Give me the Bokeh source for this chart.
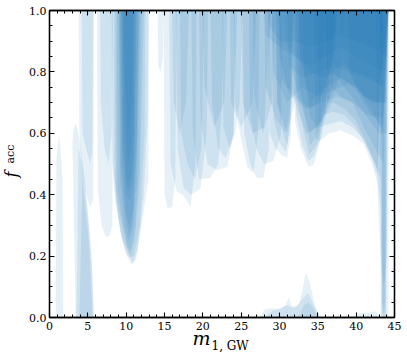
from bokeh.plotting import figure
from bokeh.models import Title, LinearAxis, SingleIntervalTicker, CustomJSTickFormatter, Range1d
from bokeh.embed import file_html
from bokeh.resources import INLINE

# ---------------- data ----------------
x_tick_values = [0, 5, 10, 15, 20, 25, 30, 35, 40, 45]
x_tick_labels = ["0", "5", "10", "15", "20", "25", "30", "35", "40", "45"]
y_tick_values = [0.0, 0.2, 0.4, 0.6, 0.8, 1.0]
y_tick_labels = ["0.0", "0.2", "0.4", "0.6", "0.8", "1.0"]

# regions rising from f_acc = 0 : (m1 values, upper f_acc)
low_strips = [
    ([0.8, 0.9, 1.2, 1.4, 1.7, 1.8], [0.0, 0.52, 0.59, 0.56, 0.45, 0.0]),
    ([3.5, 3.8, 4.2, 4.7, 5.1, 5.5, 5.75], [0.0, 0.55, 0.50, 0.40, 0.30, 0.18, 0.0]),
    ([3.9, 4.3, 4.8, 5.2, 5.6], [0.0, 0.45, 0.33, 0.22, 0.0]),
]
# region with lower and upper bounds : (m1, lower, upper)
left_blob_x = [3.0, 3.1, 3.4, 3.6, 4.0, 4.6, 5.2, 5.6, 5.8]
left_blob_lo = [0.55, 0.45, 0.0, 0.0, 0.0, 0.0, 0.0, 0.0, 0.0]
left_blob_hi = [0.56, 0.61, 0.63, 0.62, 0.57, 0.45, 0.30, 0.15, 0.0]

# regions hanging from f_acc = 1 : (m1 values, lower f_acc)
left_bands = [
    ([3.8, 3.9, 4.3, 4.8, 5.3, 5.7, 5.8], [1.0, 0.60, 0.46, 0.40, 0.36, 0.38, 1.0]),
    ([4.2, 4.3, 4.8, 5.3, 5.6, 5.7], [1.0, 0.60, 0.55, 0.50, 0.55, 1.0]),
    ([6.2, 6.3, 6.8, 7.3, 7.8, 8.2, 8.3], [1.0, 0.42, 0.30, 0.265, 0.265, 0.30, 1.0]),
    ([6.6, 6.7, 7.2, 7.7, 8.1, 8.2], [1.0, 0.70, 0.55, 0.50, 0.60, 1.0]),
]
peak10_bands = [
    ([8.1, 8.2, 9.0, 10.0, 10.8, 11.3, 12.2, 12.9, 13.0], [1.0, 0.50, 0.36, 0.24, 0.175, 0.19, 0.33, 0.45, 1.0]),
    ([8.2, 8.3, 9.0, 9.8, 10.3, 10.8, 11.5, 12.3, 12.8, 12.9], [1.0, 0.45, 0.32, 0.22, 0.19, 0.17, 0.22, 0.40, 0.65, 1.0]),
    ([8.4, 8.5, 9.2, 10.0, 10.4, 11.0, 11.8, 12.4, 12.5], [1.0, 0.40, 0.28, 0.21, 0.195, 0.20, 0.30, 0.60, 1.0]),
    ([8.6, 8.7, 9.4, 10.1, 10.5, 11.1, 11.8, 12.3], [1.0, 0.38, 0.26, 0.22, 0.20, 0.25, 0.45, 1.0]),
    ([8.8, 8.9, 9.6, 10.2, 10.6, 11.2, 11.7, 12.0], [1.0, 0.42, 0.30, 0.23, 0.22, 0.30, 0.50, 1.0]),
    ([9.0, 9.2, 9.8, 10.3, 10.8, 11.4, 11.8], [1.0, 0.45, 0.30, 0.25, 0.28, 0.45, 1.0]),
    ([9.1, 9.3, 9.9, 10.4, 10.9, 11.4, 11.7], [1.0, 0.48, 0.33, 0.27, 0.32, 0.55, 1.0]),
    ([9.2, 9.4, 9.9, 10.4, 10.9, 11.4, 11.6], [1.0, 0.50, 0.35, 0.30, 0.35, 0.60, 1.0]),
    ([9.3, 9.5, 10.0, 10.5, 11.0, 11.4], [1.0, 0.55, 0.40, 0.38, 0.45, 1.0]),
    ([9.4, 9.6, 10.0, 10.5, 11.0, 11.3], [1.0, 0.58, 0.42, 0.42, 0.50, 1.0]),
    ([9.5, 9.7, 10.1, 10.6, 11.0, 11.2], [1.0, 0.60, 0.45, 0.45, 0.60, 1.0]),
    ([9.6, 9.8, 10.2, 10.6, 10.9, 11.0], [1.0, 0.70, 0.50, 0.55, 0.70, 1.0]),
    ([9.7, 9.9, 10.3, 10.7, 10.9], [1.0, 0.75, 0.60, 0.70, 1.0]),
    ([14.1, 14.2, 14.5, 14.8, 14.9], [1.0, 0.82, 0.80, 0.85, 1.0]),
]
mid_bands = [
    ([14.9, 15.0, 15.4, 16.0, 16.4, 16.6], [1.0, 0.40, 0.355, 0.36, 0.45, 1.0]),
    ([15.6, 15.8, 16.6, 17.4, 18.4, 19.0, 19.2], [1.0, 0.50, 0.41, 0.40, 0.36, 0.50, 1.0]),
    ([16.5, 16.7, 17.5, 18.5, 19.7, 20.5, 20.7], [1.0, 0.55, 0.42, 0.40, 0.42, 0.60, 1.0]),
    ([17.0, 17.2, 18.0, 19.0, 19.8, 20.2], [1.0, 0.60, 0.50, 0.45, 0.55, 1.0]),
    ([18.5, 18.7, 19.5, 21.0, 22.0, 22.5, 22.7], [1.0, 0.60, 0.45, 0.455, 0.50, 0.70, 1.0]),
    ([19.5, 19.7, 20.6, 21.8, 23.2, 24.0, 24.2], [1.0, 0.65, 0.50, 0.48, 0.49, 0.60, 1.0]),
    ([21.0, 21.2, 22.0, 23.0, 24.0, 24.5], [1.0, 0.70, 0.55, 0.52, 0.60, 1.0]),
    ([22.5, 22.7, 23.5, 24.2, 24.8, 25.2], [1.0, 0.62, 0.55, 0.60, 0.70, 1.0]),
    ([24.0, 24.2, 25.0, 25.8, 26.6, 27.2, 27.4], [1.0, 0.70, 0.58, 0.49, 0.47, 0.60, 1.0]),
    ([25.2, 25.4, 26.2, 27.0, 27.9, 28.6, 28.8], [1.0, 0.60, 0.50, 0.455, 0.455, 0.55, 1.0]),
    ([26.0, 26.2, 27.0, 28.0, 29.2, 30.2, 30.4], [1.0, 0.65, 0.55, 0.50, 0.51, 0.60, 1.0]),
    ([16.0, 16.2, 17.0, 17.8, 18.2], [1.0, 0.70, 0.60, 0.70, 1.0]),
    ([20.0, 20.2, 21.5, 22.8, 23.2], [1.0, 0.75, 0.62, 0.70, 1.0]),
    ([23.5, 23.7, 25.0, 26.5, 27.0], [1.0, 0.70, 0.62, 0.70, 1.0]),
    ([25.0, 25.2, 26.5, 28.0, 28.8], [1.0, 0.70, 0.60, 0.62, 1.0]),
    ([26.5, 26.7, 27.8, 29.0, 29.5], [1.0, 0.72, 0.60, 0.70, 1.0]),
]
right_bands = [
    ([28.5, 28.7, 29.5, 30.3, 31.0, 31.5, 31.7], [1.0, 0.60, 0.55, 0.53, 0.52, 0.60, 1.0]),
    ([29.0, 29.2, 30.0, 30.8, 31.3, 31.6], [1.0, 0.65, 0.57, 0.54, 0.60, 1.0]),
    ([29.5, 29.7, 30.5, 31.0, 31.5, 31.8], [1.0, 0.70, 0.60, 0.56, 0.66, 1.0]),
    ([28.0, 28.2, 29.5, 30.8, 31.6, 31.9], [1.0, 0.75, 0.65, 0.60, 0.70, 1.0]),
    ([31.8, 32.0, 32.8, 33.8, 34.5, 35.3, 35.6], [1.0, 0.64, 0.55, 0.49, 0.50, 0.575, 1.0]),
    ([32.0, 32.2, 33.0, 33.8, 34.6, 35.6, 36.0], [1.0, 0.66, 0.56, 0.51, 0.53, 0.60, 1.0]),
    ([32.2, 32.4, 33.2, 33.9, 34.8, 36.0, 36.5], [1.0, 0.70, 0.60, 0.53, 0.56, 0.65, 1.0]),
    ([32.5, 32.7, 33.4, 34.0, 35.0, 36.5, 37.0], [1.0, 0.75, 0.64, 0.56, 0.60, 0.70, 1.0]),
    ([31.5, 31.7, 33.0, 34.0, 35.5, 37.0, 37.5], [1.0, 0.80, 0.68, 0.60, 0.64, 0.75, 1.0]),
    ([34.5, 34.7, 35.3, 36.5, 38.0, 39.7, 41.0, 41.9, 42.8, 43.2, 43.4], [1.0, 0.58, 0.575, 0.60, 0.61, 0.59, 0.565, 0.51, 0.44, 0.36, 1.0]),
    ([35.0, 35.2, 36.5, 38.0, 39.5, 41.0, 42.0, 42.8, 43.2], [1.0, 0.62, 0.63, 0.64, 0.62, 0.58, 0.52, 0.46, 1.0]),
    ([35.5, 35.7, 37.0, 38.5, 40.0, 41.5, 42.5, 43.2, 43.4], [1.0, 0.66, 0.67, 0.66, 0.62, 0.55, 0.50, 0.45, 1.0]),
    ([36.0, 36.2, 37.0, 38.5, 40.0, 41.5, 42.8, 43.5], [1.0, 0.70, 0.70, 0.68, 0.64, 0.56, 0.48, 1.0]),
    ([36.5, 36.7, 38.0, 39.5, 41.0, 42.5, 43.6, 44.0], [1.0, 0.75, 0.72, 0.70, 0.62, 0.55, 0.50, 1.0]),
    ([37.0, 37.2, 38.5, 40.0, 41.5, 43.0, 44.0, 44.2], [1.0, 0.80, 0.75, 0.70, 0.65, 0.60, 0.60, 1.0]),
    ([38.0, 38.2, 39.5, 41.0, 42.5, 43.8, 44.2], [1.0, 0.85, 0.78, 0.72, 0.70, 0.70, 1.0]),
    ([33.0, 33.2, 34.0, 35.0, 36.0, 37.0, 37.2], [1.0, 0.80, 0.65, 0.62, 0.70, 0.85, 1.0]),
    ([29.8, 30.0, 31.0, 32.0, 33.0, 34.0, 35.0, 36.0, 37.0, 37.5], [1.0, 0.85, 0.75, 0.72, 0.70, 0.68, 0.70, 0.75, 0.85, 1.0]),
    ([39.0, 39.2, 40.5, 42.0, 43.5, 44.2], [1.0, 0.80, 0.72, 0.66, 0.62, 1.0]),
    ([30.5, 30.7, 32.0, 34.0, 36.0, 38.0, 40.0, 42.0, 43.5, 44.2], [1.0, 0.90, 0.85, 0.80, 0.78, 0.82, 0.80, 0.78, 0.75, 1.0]),
    ([28.0, 28.2, 30.0, 32.0, 34.0, 36.0, 38.0, 40.0, 42.0, 44.0, 44.2], [1.0, 0.92, 0.88, 0.85, 0.82, 0.85, 0.88, 0.85, 0.82, 0.80, 1.0]),
    ([29.0, 29.2, 31.0, 33.0, 35.0, 37.0, 39.0, 41.0, 43.0, 44.2], [1.0, 0.80, 0.70, 0.75, 0.72, 0.74, 0.76, 0.72, 0.70, 1.0]),
    ([30.0, 30.2, 31.5, 33.5, 35.5, 37.5, 39.5, 41.5, 43.5, 44.2], [1.0, 0.78, 0.72, 0.68, 0.70, 0.72, 0.70, 0.66, 0.65, 1.0]),
    ([32.5, 32.7, 34.0, 36.0, 38.0, 40.0, 42.0, 44.0, 44.2], [1.0, 0.85, 0.70, 0.75, 0.78, 0.75, 0.70, 0.70, 1.0]),
    ([29.5, 29.7, 31.0, 32.0, 33.5, 35.0, 36.5, 38.0, 38.3], [1.0, 0.70, 0.60, 0.70, 0.60, 0.62, 0.68, 0.80, 1.0]),
    ([36.0, 36.2, 38.0, 40.0, 42.0, 43.5, 44.2], [1.0, 0.80, 0.78, 0.75, 0.68, 0.60, 1.0]),
    ([28.5, 28.7, 30.0, 32.0, 34.0, 36.0, 38.0, 40.0, 42.0, 44.0, 44.2], [1.0, 0.95, 0.90, 0.90, 0.88, 0.90, 0.92, 0.90, 0.88, 0.85, 1.0]),
    ([31.0, 31.2, 33.0, 35.0, 37.0, 39.0, 41.0, 43.0, 44.2], [1.0, 0.82, 0.78, 0.80, 0.82, 0.80, 0.78, 0.76, 1.0]),
]
spike_bands = [
    ([43.1, 43.2, 43.6, 44.0, 44.2, 44.3], [1.0, 0.0, 0.0, 0.0, 0.0, 1.0]),
    ([43.2, 43.3, 43.6, 43.9, 44.1], [1.0, 0.0, 0.0, 0.0, 1.0]),
    ([43.25, 43.35, 43.6, 43.85, 44.0], [1.0, 0.02, 0.0, 0.02, 1.0]),
    ([43.3, 43.4, 43.6, 43.8, 43.9], [1.0, 0.05, 0.02, 0.05, 1.0]),
    ([42.6, 42.8, 43.2, 43.6, 44.0, 44.2], [1.0, 0.40, 0.20, 0.10, 0.20, 1.0]),
]
bottom_blobs = [
    ([27.5, 28.0, 29.0, 30.0, 30.8, 31.2, 31.6, 32.5, 33.0, 33.4, 33.9, 34.6, 35.3],
     [0.0, 0.025, 0.03, 0.025, 0.04, 0.065, 0.035, 0.04, 0.09, 0.145, 0.12, 0.04, 0.0]),
    ([28.0, 29.0, 30.0, 31.0, 32.0, 33.0, 33.7, 34.5, 35.2], [0.0, 0.02, 0.03, 0.04, 0.03, 0.06, 0.08, 0.04, 0.0]),
    ([32.5, 33.2, 33.8, 34.4, 35.0], [0.0, 0.04, 0.05, 0.03, 0.0]),
    ([39.8, 40.5, 41.5, 42.5, 43.2], [0.0, 0.015, 0.015, 0.02, 0.0]),
]

BLUE = "#1f77b4"
ALPHA = 0.11
SERIF = "DejaVu Serif"

p = figure(width=407, height=359, output_backend="svg", toolbar_location=None,
           x_range=Range1d(0, 45), y_range=Range1d(0, 1),
           min_border_left=49, min_border_right=13, min_border_top=10, min_border_bottom=42)
p.grid.visible = False
p.background_fill_color = "white"
p.border_fill_color = "white"
p.outline_line_color = "black"
p.outline_line_width = 1.3

for xs, hi in low_strips:
    p.varea(x=xs, y1=[0.0] * len(xs), y2=hi, fill_color=BLUE, fill_alpha=ALPHA)
p.varea(x=left_blob_x, y1=left_blob_lo, y2=left_blob_hi, fill_color=BLUE, fill_alpha=ALPHA)
for group in (left_bands, peak10_bands, mid_bands, right_bands, spike_bands):
    for xs, lo in group:
        p.varea(x=xs, y1=lo, y2=[1.0] * len(xs), fill_color=BLUE, fill_alpha=ALPHA)
for xs, hi in bottom_blobs:
    p.varea(x=xs, y1=[0.0] * len(xs), y2=hi, fill_color=BLUE, fill_alpha=ALPHA)

def style_axis(ax, labels=True):
    ax.axis_line_color = "black"
    ax.axis_line_width = 1.3
    ax.major_tick_in = 5
    ax.major_tick_out = 0
    ax.minor_tick_in = 3
    ax.minor_tick_out = 0
    ax.major_tick_line_width = 1.1
    ax.minor_tick_line_width = 1.0
    ax.major_label_text_font = SERIF
    ax.major_label_text_font_size = "11px"
    ax.major_label_text_color = "black"
    if not labels:
        ax.formatter = CustomJSTickFormatter(code="return ''")
        ax.major_label_standoff = 0

p.xaxis.ticker = SingleIntervalTicker(interval=5, num_minor_ticks=5)
p.yaxis.ticker = SingleIntervalTicker(interval=0.2, num_minor_ticks=4)
p.xaxis.major_label_overrides = dict(zip(x_tick_values, x_tick_labels))
p.yaxis.major_label_overrides = dict(zip(y_tick_values, y_tick_labels))
style_axis(p.xaxis[0])
style_axis(p.yaxis[0])
p.xaxis.major_label_standoff = 4
p.yaxis.major_label_standoff = 3

top = LinearAxis(ticker=SingleIntervalTicker(interval=5, num_minor_ticks=5))
right = LinearAxis(ticker=SingleIntervalTicker(interval=0.2, num_minor_ticks=4))
style_axis(top, labels=False)
style_axis(right, labels=False)
p.add_layout(top, "above")
p.add_layout(right, "right")

# axis titles as side-panel titles (real text, outside the frame)
p.add_layout(Title(text="m", align="left", offset=143, standoff=-16,
                   text_font=SERIF, text_font_style="italic", text_font_size="19px",
                   text_color="black"), "below")
p.add_layout(Title(text="1, GW", align="left", offset=162, standoff=-8,
                   text_font=SERIF, text_font_style="normal", text_font_size="12px",
                   text_color="black"), "below")
p.add_layout(Title(text="acc", align="left", vertical_align="top", offset=154, standoff=-46,
                   text_font=SERIF, text_font_style="normal", text_font_size="11px",
                   text_color="black"), "left")
p.add_layout(Title(text="f", align="left", vertical_align="top", offset=140, standoff=-50,
                   text_font=SERIF, text_font_style="italic", text_font_size="16px",
                   text_color="black"), "left")

open("out.html", "w").write(file_html(p, INLINE))
